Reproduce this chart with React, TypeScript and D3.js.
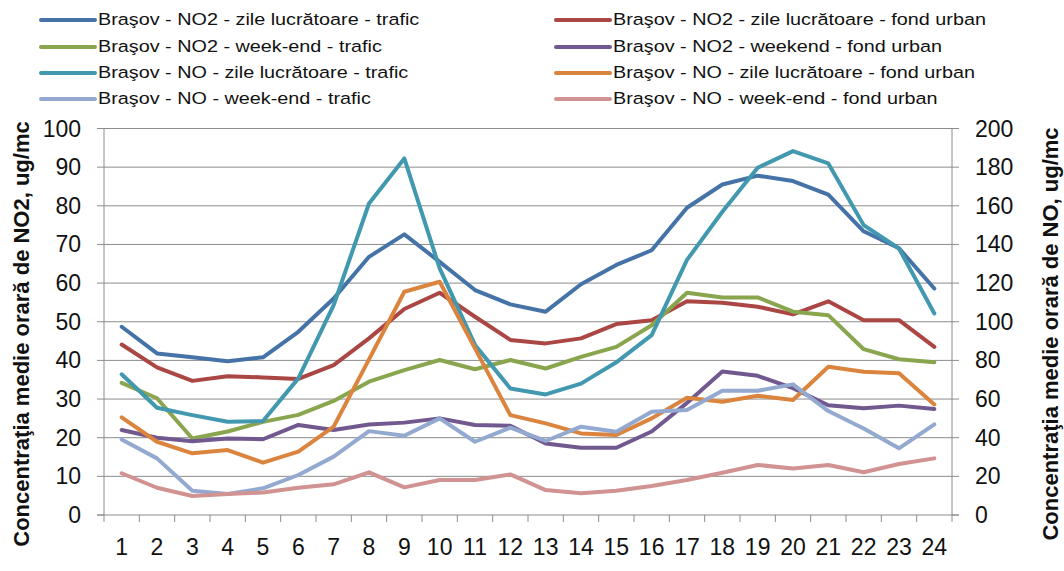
import { useEffect, useRef } from 'react';
import * as d3 from 'd3';

const hours = ['1', '2', '3', '4', '5', '6', '7', '8', '9', '10', '11', '12', '13', '14', '15', '16', '17', '18', '19', '20', '21', '22', '23', '24'];

const leftTicks = [0, 10, 20, 30, 40, 50, 60, 70, 80, 90, 100];
const rightTicks = [0, 20, 40, 60, 80, 100, 120, 140, 160, 180, 200];

// NO2 series (left axis)
const no2ZileTrafic = [48.7, 41.8, 40.8, 39.8, 40.8, 47.4, 56, 66.8, 72.6, 65.5, 58.2, 54.5, 52.6, 59.7, 64.7, 68.5, 79.5, 85.5, 87.8, 86.4, 82.9, 73.4, 69, 58.6];
const no2ZileFond = [44.1, 38.2, 34.7, 35.9, 35.6, 35.2, 38.8, 45.7, 53.3, 57.5, 51.3, 45.3, 44.4, 45.7, 49.4, 50.4, 55.3, 54.9, 53.9, 51.9, 55.3, 50.4, 50.4, 43.5];
const no2WeekendTrafic = [34.2, 30.2, 19.8, 21.6, 24.1, 25.9, 29.5, 34.5, 37.5, 40.1, 37.7, 40.1, 37.9, 40.9, 43.5, 49.1, 57.5, 56.3, 56.3, 52.6, 51.7, 42.9, 40.3, 39.5];
const no2WeekendFond = [22, 20, 19.1, 19.8, 19.6, 23.3, 22, 23.4, 23.9, 25, 23.3, 23.1, 18.5, 17.4, 17.4, 21.6, 29, 37.1, 36, 32.8, 28.4, 27.6, 28.3, 27.4];

// NO series (right axis)
const noZileTrafic = [72.8, 55.5, 51.7, 48.3, 48.6, 70.7, 108.6, 161.2, 184.5, 127.6, 88, 65.5, 62.4, 68, 79, 93.1, 132, 156.9, 179.7, 188.3, 181.9, 150, 137.9, 104.3];
const noZileFond = [50.5, 37.9, 31.9, 33.6, 27.1, 32.8, 45.7, 80.5, 115.5, 120.7, 86.2, 51.7, 47.4, 42.2, 41.4, 50, 60.7, 58.6, 61.7, 59.5, 76.7, 74.1, 73.3, 57.2];
const noWeekendTrafic = [39.1, 29.3, 12.6, 10.9, 13.8, 20.7, 30.2, 43.4, 41, 50, 37.9, 45.2, 38.3, 45.7, 43.1, 53.4, 54.3, 64.3, 64.3, 67.6, 53.8, 44.8, 34.5, 46.9];
const noWeekendFond = [21.6, 14.1, 9.8, 10.9, 11.6, 14.1, 15.9, 22.1, 14.3, 18.1, 18.1, 21, 12.9, 11.2, 12.6, 15, 18.1, 21.9, 25.9, 24.1, 25.9, 22.1, 26.4, 29.3];

const series = [
    { name: 'Braşov - NO2 - zile lucrătoare - trafic', values: no2ZileTrafic, axis: 'left', color: '#4573A7' },
    { name: 'Braşov - NO2 - zile lucrătoare - fond urban', values: no2ZileFond, axis: 'left', color: '#AA4643' },
    { name: 'Braşov - NO2 - week-end - trafic', values: no2WeekendTrafic, axis: 'left', color: '#89A54E' },
    { name: 'Braşov - NO2 - weekend - fond urban', values: no2WeekendFond, axis: 'left', color: '#71588F' },
    { name: 'Braşov - NO - zile lucrătoare - trafic', values: noZileTrafic, axis: 'right', color: '#4198AF' },
    { name: 'Braşov - NO - zile lucrătoare - fond urban', values: noZileFond, axis: 'right', color: '#DB843D' },
    { name: 'Braşov - NO - week-end - trafic', values: noWeekendTrafic, axis: 'right', color: '#93A9CF' },
    { name: 'Braşov - NO - week-end - fond urban', values: noWeekendFond, axis: 'right', color: '#D19392' },
];

const W = 1064;
const H = 571;
const plot = { left: 104, right: 952, top: 128.5, bottom: 515 };
const FONT = '"Liberation Sans", Arial, sans-serif';
const GRID = '#8c8c8c';
const TICK_SIZE = '23px';

const App = () => {
    const svgRef = useRef<SVGSVGElement>(null);

    useEffect(() => {
        const svg = d3.select(svgRef.current);
        svg.selectAll('*').remove();

        const x = d3.scaleBand().domain(hours).range([plot.left, plot.right]);
        const cx = (i: number) => (x(hours[i]) as number) + x.bandwidth() / 2;
        const yL = d3.scaleLinear().domain([0, 100]).range([plot.bottom, plot.top]);
        const yR = d3.scaleLinear().domain([0, 200]).range([plot.bottom, plot.top]);

        // gridlines
        svg.append('g')
            .selectAll('line')
            .data(leftTicks.filter(t => t > 0))
            .join('line')
            .attr('x1', plot.left)
            .attr('x2', plot.right)
            .attr('y1', d => yL(d))
            .attr('y2', d => yL(d))
            .attr('stroke', GRID)
            .attr('stroke-width', 1);

        // left axis
        const la = svg.append('g');
        la.append('line')
            .attr('x1', plot.left).attr('x2', plot.left)
            .attr('y1', plot.top).attr('y2', plot.bottom)
            .attr('stroke', GRID);
        la.selectAll('line.tk')
            .data(leftTicks)
            .join('line')
            .attr('class', 'tk')
            .attr('x1', plot.left - 7).attr('x2', plot.left)
            .attr('y1', d => yL(d)).attr('y2', d => yL(d))
            .attr('stroke', GRID);
        la.selectAll('text')
            .data(leftTicks)
            .join('text')
            .attr('x', 81)
            .attr('y', d => yL(d))
            .attr('text-anchor', 'end')
            .attr('dominant-baseline', 'central')
            .style('font-family', FONT)
            .style('font-size', TICK_SIZE)
            .attr('fill', '#111')
            .text(d => d);

        // right axis
        const ra = svg.append('g');
        ra.append('line')
            .attr('x1', plot.right).attr('x2', plot.right)
            .attr('y1', plot.top).attr('y2', plot.bottom)
            .attr('stroke', GRID);
        ra.selectAll('line.tk')
            .data(rightTicks)
            .join('line')
            .attr('class', 'tk')
            .attr('x1', plot.right).attr('x2', plot.right + 7)
            .attr('y1', d => yR(d)).attr('y2', d => yR(d))
            .attr('stroke', GRID);
        ra.selectAll('text')
            .data(rightTicks)
            .join('text')
            .attr('x', 975)
            .attr('y', d => yR(d))
            .attr('dominant-baseline', 'central')
            .style('font-family', FONT)
            .style('font-size', TICK_SIZE)
            .attr('fill', '#111')
            .text(d => d);

        // bottom axis
        const ba = svg.append('g');
        ba.append('line')
            .attr('x1', plot.left - 7).attr('x2', plot.right + 7)
            .attr('y1', plot.bottom).attr('y2', plot.bottom)
            .attr('stroke', GRID);
        const bounds = hours.map(h => x(h) as number).concat([plot.right]);
        ba.selectAll('line.tk')
            .data(bounds)
            .join('line')
            .attr('class', 'tk')
            .attr('x1', d => d).attr('x2', d => d)
            .attr('y1', plot.bottom).attr('y2', plot.bottom + 7)
            .attr('stroke', GRID);
        ba.selectAll('text')
            .data(hours)
            .join('text')
            .attr('x', (d, i) => cx(i))
            .attr('y', 547)
            .attr('text-anchor', 'middle')
            .attr('dominant-baseline', 'central')
            .style('font-family', FONT)
            .style('font-size', TICK_SIZE)
            .attr('fill', '#111')
            .text(d => d);

        // lines
        series.forEach(s => {
            const y = s.axis === 'left' ? yL : yR;
            const line = d3.line<number>()
                .x((d, i) => cx(i))
                .y(d => y(d));
            svg.append('path')
                .datum(s.values)
                .attr('d', line)
                .attr('fill', 'none')
                .attr('stroke', s.color)
                .attr('stroke-width', 4)
                .attr('stroke-linejoin', 'round')
                .attr('stroke-linecap', 'round');
        });

        // axis titles
        svg.append('text')
            .attr('transform', `translate(21, 334) rotate(-90)`)
            .attr('text-anchor', 'middle')
            .attr('dominant-baseline', 'central')
            .style('font-family', FONT)
            .style('font-size', '22px')
            .style('font-weight', 'bold')
            .attr('fill', '#111')
            .text('Concentraţia medie orară de NO2, ug/mc');
        svg.append('text')
            .attr('transform', `translate(1050, 334) rotate(-90)`)
            .attr('text-anchor', 'middle')
            .attr('dominant-baseline', 'central')
            .style('font-family', FONT)
            .style('font-size', '22px')
            .style('font-weight', 'bold')
            .attr('fill', '#111')
            .text('Concentraţia medie orară de NO, ug/mc');

        // legend
        const rows = [20, 47, 73, 99];
        const cols = [41, 556];
        const legend = svg.append('g');
        const items = legend.selectAll('g')
            .data(series)
            .join('g')
            .attr('transform', (d, i) => `translate(${cols[i % 2]}, ${rows[Math.floor(i / 2)]})`);
        items.append('line')
            .attr('x1', 0).attr('x2', 54)
            .attr('y1', 0).attr('y2', 0)
            .attr('stroke', d => d.color)
            .attr('stroke-width', 4)
            .attr('stroke-linecap', 'round');
        // legend text is drawn a bit wider than the font, like the source
        items.append('text')
            .attr('transform', 'translate(57, 0) scale(1.2, 1)')
            .attr('dominant-baseline', 'central')
            .style('font-family', FONT)
            .style('font-size', '16.5px')
            .attr('fill', '#111')
            .text(d => d.name);
    }, []);

    return (
        <svg
            ref={svgRef}
            width={W}
            height={H}
            viewBox={`0 0 ${W} ${H}`}
            style={{ position: 'absolute', left: 0, top: 0, background: '#fff' }}
        />
    );
};

export default App;
